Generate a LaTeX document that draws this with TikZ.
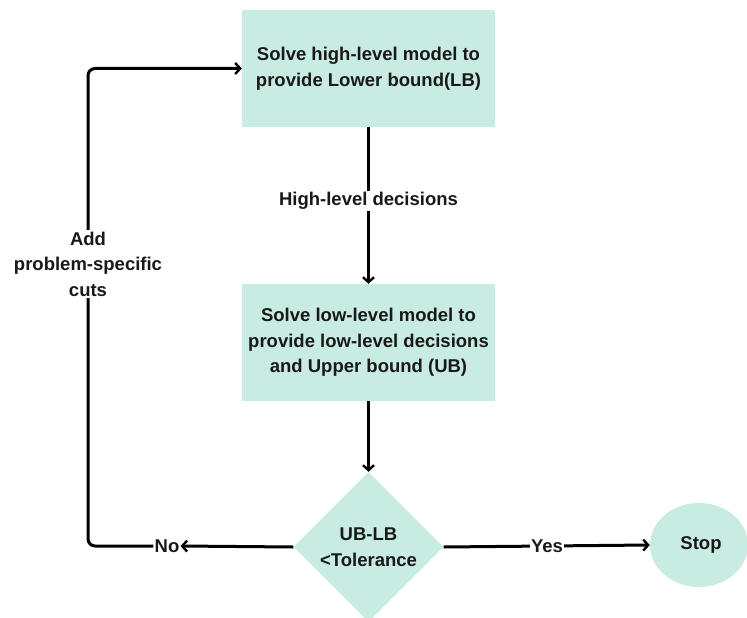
\documentclass[tikz,border=0pt]{standalone}
\usepackage{fontspec}
\setmainfont{Liberation Sans}
\usetikzlibrary{arrows.meta,shapes.geometric}
\definecolor{mint}{HTML}{C8EBE2}
\begin{document}
\begin{tikzpicture}[x=1pt,y=-1pt,
  txt/.style={font=\bfseries\fontsize{18.5}{25.5}\selectfont, align=center, text=black!90},
  procbox/.style={txt, fill=mint, minimum width=253pt, minimum height=117pt, inner sep=0pt},
  decision/.style={txt, fill=mint, shape=diamond, minimum width=150pt, minimum height=150pt, inner sep=0pt},
  endnode/.style={txt, fill=mint, shape=ellipse, minimum width=98pt, minimum height=84pt, inner sep=0pt},
  lbl/.style={txt, fill=white, inner sep=1.5pt},
  conn/.style={line width=3pt, -{Straight Barb[length=5pt,width=11pt,line width=2.4pt]}}
]
\useasboundingbox (0,0) rectangle (747,618);
\node[procbox] (high) at (368.5,68.5) {Solve high-level model to\\provide Lower bound(LB)};
\node[procbox] (low) at (368.5,342.5) {Solve low-level model to\\provide low-level decisions\\and Upper bound (UB)};
\node[decision] (dec) at (368.5,547) {UB-LB\\<Tolerance};
\node[endnode] (stop) at (699,545) {\hspace{4pt}Stop};
\draw[conn] (high.south) -- (low.north);
\node[lbl] (hld) at (368.5,201) {High-level decisions};
\draw[conn] (low.south) -- (dec.north);
\node[txt, inner sep=1pt] (no) at (167,546) {No};
\draw[conn] (dec.west) -- (no.east);
\coordinate (corner) at (88,546);
\draw[conn, rounded corners=7pt] (no.west) -- (corner) |- (high.west);
\node[lbl] (cuts) at (88,264) {Add\\problem-specific\\cuts};
\draw[conn] (dec.east) -- (stop.west);
\node[lbl] (yes) at (547,546) {Yes};
\end{tikzpicture}
\end{document}
